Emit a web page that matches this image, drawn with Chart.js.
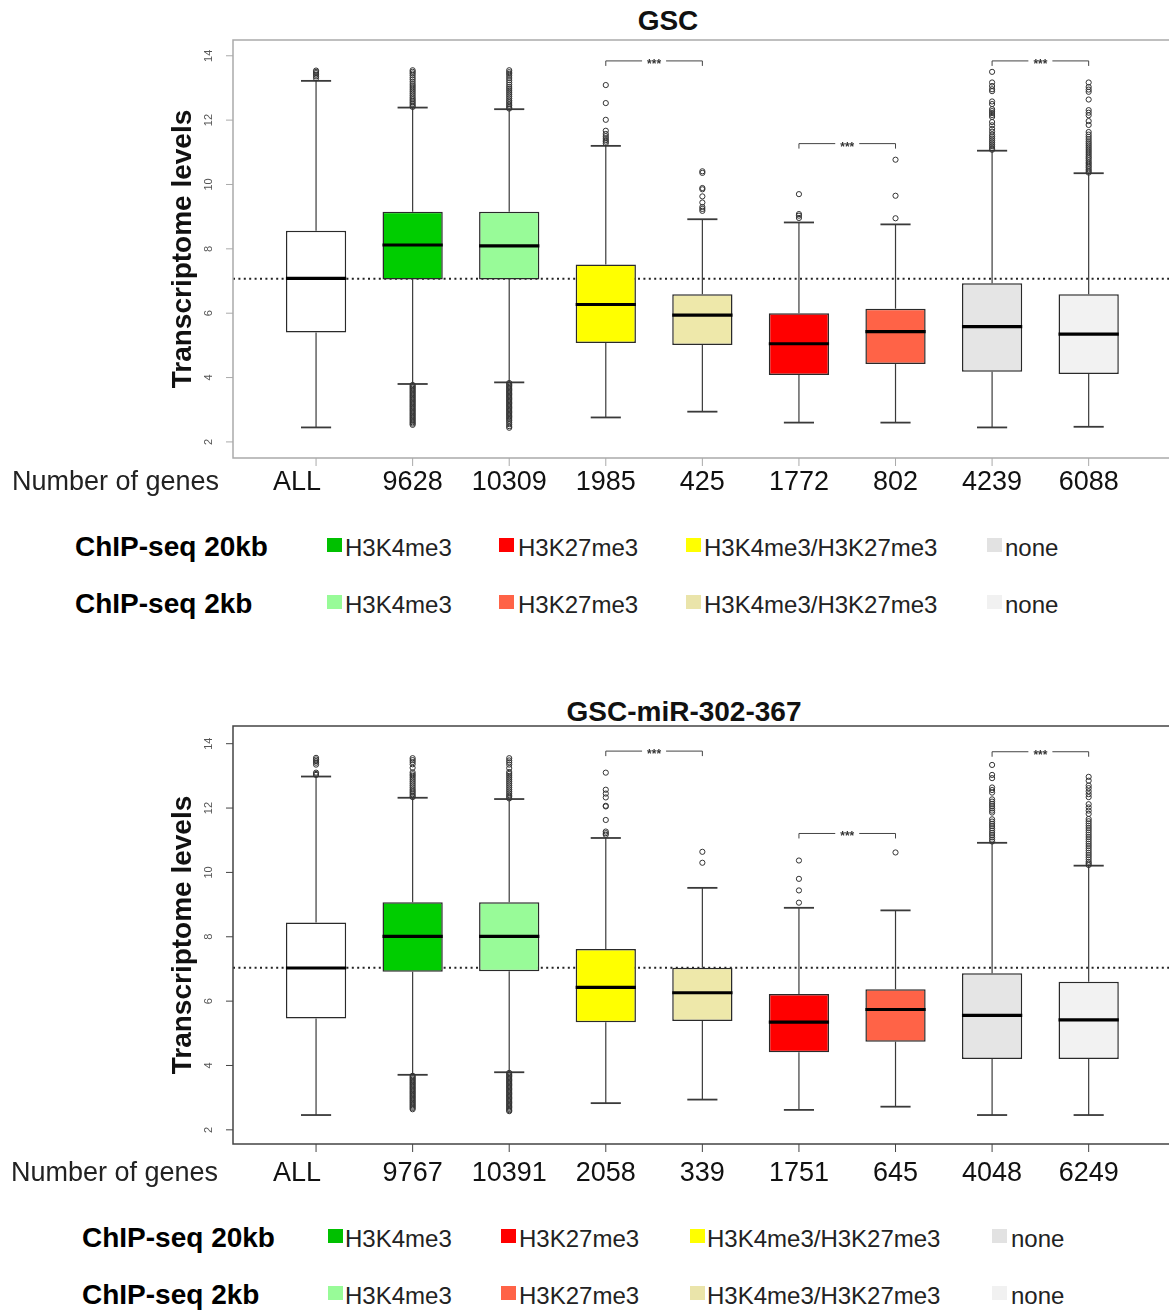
<!DOCTYPE html>
<html>
<head>
<meta charset="utf-8">
<script src="https://cdn.jsdelivr.net/npm/chart.js@4.4.1/dist/chart.umd.min.js"></script>
<style>
  html, body { margin: 0; padding: 0; background: #fff; overflow: hidden; }
  body { width: 1169px; height: 1314px; position: relative; font-family: "Liberation Sans", Arial, sans-serif; }
  canvas { position: absolute; left: 0; }
  .t { position: absolute; white-space: nowrap; line-height: 1; transform: translateY(-50%); }
  .title { font-weight: bold; font-size: 28px; color: #111; transform: translate(-50%, -50%); }
  .genes { font-size: 27px; color: #222; }
  .chip { font-weight: bold; font-size: 28px; color: #000; }
  .lg { font-size: 24px; color: #222; }
  .sw { position: absolute; width: 15px; height: 14px; }
</style>
</head>
<body>
<div class="t title" style="left:668px; top:21px;">GSC</div>
<canvas id="gscChart" width="1169" height="500" style="top:0px;"></canvas>
<div class="t genes" style="left:12px; top:481px;">Number of genes</div>

<div class="t title" style="left:684px; top:712px;">GSC-miR-302-367</div>
<canvas id="mirChart" width="1169" height="500" style="top:690px;"></canvas>
<div class="t genes" style="left:11px; top:1172px;">Number of genes</div>

<script>
// ---- data: GSC ----
const gscCats = ['ALL', '9628', '10309', '1985', '425', '1772', '802', '4239', '6088'];
const gscLow  = [2.45, 3.80, 3.85, 2.76, 2.94, 2.60, 2.60, 2.45, 2.47];
const gscQ1   = [5.40, 7.05, 7.05, 5.07, 5.01, 4.08, 4.42, 4.18, 4.11];
const gscMed  = [7.08, 8.12, 8.09, 6.27, 5.94, 5.05, 5.43, 5.58, 5.35];
const gscQ3   = [8.56, 9.15, 9.15, 7.51, 6.59, 6.00, 6.14, 6.93, 6.59];
const gscHigh = [13.22, 12.39, 12.34, 11.20, 8.92, 8.82, 8.76, 11.05, 10.35];
const gscOut = [
  [13.30, 13.36, 13.41, 13.46, 13.50, 13.54],
  [13.55, 13.50, 13.45, 13.39, 13.32, 13.26, 13.19, 13.12, 13.06, 13.00, 12.94, 12.88, 12.82, 12.76, 12.70, 12.65, 12.60, 12.55, 12.50, 12.45, 12.41,
   3.77, 3.73, 3.69, 3.65, 3.61, 3.57, 3.53, 3.49, 3.45, 3.41, 3.37, 3.33, 3.29, 3.25, 3.21, 3.17, 3.13, 3.09, 3.05, 3.01, 2.97, 2.93, 2.89, 2.85, 2.81, 2.77, 2.73, 2.69, 2.65, 2.61, 2.57, 2.53],
  [13.55, 13.49, 13.44, 13.38, 13.31, 13.24, 13.17, 13.10, 13.03, 12.97, 12.91, 12.85, 12.79, 12.73, 12.67, 12.61, 12.56, 12.50, 12.45, 12.40, 12.36,
   3.83, 3.79, 3.75, 3.71, 3.67, 3.63, 3.59, 3.55, 3.51, 3.47, 3.43, 3.39, 3.35, 3.31, 3.27, 3.23, 3.19, 3.15, 3.11, 3.07, 3.03, 2.99, 2.95, 2.91, 2.87, 2.83, 2.79, 2.75, 2.71, 2.66, 2.61, 2.55, 2.49, 2.44],
  [11.28, 11.33, 11.38, 11.44, 11.50, 11.57, 11.67, 12.01, 12.53, 13.09],
  [9.18, 9.24, 9.30, 9.44, 9.63, 9.85, 9.89, 10.36, 10.41],
  [8.96, 9.03, 9.08, 9.70],
  [8.95, 9.65, 10.77],
  [11.08, 11.13, 11.19, 11.25, 11.31, 11.37, 11.43, 11.49, 11.55, 11.64, 11.73, 11.84, 11.94, 12.10, 12.16, 12.22, 12.28, 12.34, 12.50, 12.58, 12.90, 12.96, 13.06, 13.17, 13.50],
  [10.37, 10.42, 10.47, 10.53, 10.58, 10.64, 10.69, 10.75, 10.81, 10.86, 10.92, 10.98, 11.04, 11.10, 11.16, 11.22, 11.28, 11.34, 11.41, 11.48, 11.55, 11.63, 11.85, 11.97, 12.15, 12.23, 12.31, 12.64, 12.88, 12.95, 13.03, 13.17]
];
const gscRef = 7.07;
const gscSig = [[3, 4, 13.84], [5, 6, 11.27], [7, 8, 13.84]];

// ---- data: GSC-miR-302-367 ----
const mirCats = ['ALL', '9767', '10391', '2058', '339', '1751', '645', '4048', '6249'];
const mirLow  = [2.46, 3.71, 3.79, 2.83, 2.94, 2.62, 2.72, 2.46, 2.46];
const mirQ1   = [5.46, 6.91, 6.93, 5.34, 5.38, 4.41, 4.74, 4.20, 4.20];
const mirMed  = [7.03, 8.01, 8.01, 6.43, 6.26, 5.35, 5.74, 5.56, 5.42];
const mirQ3   = [8.44, 9.07, 9.07, 7.62, 7.04, 6.22, 6.37, 6.87, 6.60];
const mirHigh = [12.98, 12.32, 12.28, 11.07, 9.52, 8.90, 8.82, 10.92, 10.21];
const mirOut = [
  [13.03, 13.06, 13.10, 13.35, 13.41, 13.46, 13.51, 13.56],
  [12.34, 12.38, 12.43, 12.48, 12.53, 12.58, 12.64, 12.70, 12.76, 12.82, 12.88, 12.94, 13.00, 13.05, 13.11, 13.25, 13.36, 13.43, 13.49, 13.55,
   3.68, 3.64, 3.60, 3.56, 3.52, 3.48, 3.44, 3.40, 3.36, 3.32, 3.28, 3.24, 3.20, 3.16, 3.12, 3.08, 3.04, 3.00, 2.96, 2.92, 2.88, 2.84, 2.80, 2.76, 2.72, 2.68, 2.64],
  [12.30, 12.35, 12.40, 12.46, 12.52, 12.58, 12.64, 12.70, 12.76, 12.82, 12.88, 12.94, 13.00, 13.06, 13.12, 13.24, 13.35, 13.42, 13.48, 13.55,
   3.77, 3.73, 3.69, 3.65, 3.61, 3.57, 3.53, 3.49, 3.45, 3.41, 3.37, 3.33, 3.29, 3.25, 3.21, 3.17, 3.13, 3.09, 3.05, 3.01, 2.97, 2.93, 2.89, 2.85, 2.81, 2.77, 2.73, 2.69, 2.65, 2.61, 2.58],
  [11.17, 11.22, 11.27, 11.63, 12.05, 12.07, 12.33, 12.45, 12.57, 13.10],
  [10.30, 10.64],
  [9.06, 9.44, 9.80, 10.37],
  [10.62],
  [10.96, 11.02, 11.09, 11.16, 11.23, 11.30, 11.37, 11.44, 11.51, 11.58, 11.65, 11.86, 11.92, 11.99, 12.06, 12.13, 12.20, 12.27, 12.48, 12.56, 12.64, 12.93, 13.03, 13.34],
  [10.23, 10.28, 10.33, 10.40, 10.47, 10.54, 10.61, 10.68, 10.75, 10.82, 10.89, 10.96, 11.03, 11.10, 11.17, 11.24, 11.31, 11.38, 11.45, 11.52, 11.59, 11.66, 11.82, 11.92, 12.02, 12.12, 12.34, 12.43, 12.52, 12.62, 12.70, 12.85, 12.97]
];
const mirRef = 7.04;
const mirSig = [[3, 4, 13.77], [5, 6, 11.21], [7, 8, 13.75]];

const yTicks = [2, 4, 6, 8, 10, 12, 14];
const legendNames = ['H3K4me3', 'H3K27me3', 'H3K4me3/H3K27me3', 'none'];

// colours
const boxColors = ['#FFFFFF', '#00CD00', '#98FB98', '#FFFF00', '#EEE8AA', '#FF0000', '#FF6347', '#E5E5E5', '#F2F2F2'];
const legend20Colors = ['#00C000', '#FF0000', '#FFFF00', '#E2E2E2'];
const legend2Colors = ['#98FB98', '#FF6347', '#EAE4AA', '#F1F1F1'];

const FONT = '"Liberation Sans", Arial, sans-serif';

function boxPlugin(p) {
  return {
    id: 'boxExtras',
    beforeDatasetsDraw(chart) {
      const { ctx, chartArea: a, scales: { x, y } } = chart;
      const bars = chart.getDatasetMeta(1).data;
      ctx.save();
      // dotted reference line (median of ALL)
      const yr = y.getPixelForValue(p.ref);
      ctx.setLineDash([2, 3.4]);
      ctx.lineWidth = 2;
      ctx.strokeStyle = '#222';
      ctx.beginPath(); ctx.moveTo(a.left, yr); ctx.lineTo(chart.width, yr); ctx.stroke();
      ctx.setLineDash([]);
      // whiskers + staples
      ctx.strokeStyle = '#3a3a3a';
      bars.forEach((b, i) => {
        const cx = x.getPixelForValue(i);
        const hw = b.width / 4;
        ctx.lineWidth = 1.2;
        [[p.low[i], p.q1[i]], [p.q3[i], p.high[i]]].forEach(([v0, v1]) => {
          ctx.beginPath();
          ctx.moveTo(cx, y.getPixelForValue(v0));
          ctx.lineTo(cx, y.getPixelForValue(v1));
          ctx.stroke();
        });
        ctx.lineWidth = 1.8;
        [p.low[i], p.high[i]].forEach(v => {
          const py = y.getPixelForValue(v);
          ctx.beginPath(); ctx.moveTo(cx - hw, py); ctx.lineTo(cx + hw, py); ctx.stroke();
        });
      });
      ctx.restore();
    },
    afterDatasetsDraw(chart) {
      const { ctx, scales: { x, y } } = chart;
      const bars = chart.getDatasetMeta(1).data;
      ctx.save();
      ctx.strokeStyle = '#000';
      ctx.lineWidth = 3.2;
      bars.forEach((b, i) => {
        const cx = x.getPixelForValue(i);
        const py = y.getPixelForValue(p.med[i]);
        ctx.beginPath(); ctx.moveTo(cx - b.width / 2, py); ctx.lineTo(cx + b.width / 2, py); ctx.stroke();
      });
      ctx.restore();
    },
    afterDraw(chart) {
      const { ctx, chartArea: a, scales: { x, y } } = chart;
      ctx.save();
      // plot frame (right side falls outside the page)
      ctx.strokeStyle = p.frame;
      ctx.lineWidth = 1.5;
      ctx.beginPath();
      ctx.moveTo(chart.width, a.top); ctx.lineTo(a.left, a.top);
      ctx.lineTo(a.left, a.bottom); ctx.lineTo(chart.width, a.bottom);
      ctx.stroke();

      // y axis ticks and rotated labels
      ctx.lineWidth = 1;
      ctx.fillStyle = '#555';
      ctx.font = '11px ' + FONT;
      ctx.textAlign = 'center';
      ctx.textBaseline = 'middle';
      yTicks.forEach(v => {
        const py = y.getPixelForValue(v);
        ctx.beginPath(); ctx.moveTo(a.left - 7, py); ctx.lineTo(a.left, py); ctx.stroke();
        ctx.save();
        ctx.translate(a.left - 24, py);
        ctx.rotate(-Math.PI / 2);
        ctx.fillText(String(v), 0, 0);
        ctx.restore();
      });

      // y axis title
      ctx.save();
      ctx.fillStyle = '#111';
      ctx.font = 'bold 28px ' + FONT;
      ctx.textBaseline = 'alphabetic';
      ctx.translate(191, (a.top + a.bottom) / 2);
      ctx.rotate(-Math.PI / 2);
      ctx.fillText('Transcriptome levels', 0, 0);
      ctx.restore();

      // x axis ticks and labels (number of genes)
      ctx.fillStyle = '#111';
      ctx.font = '27px ' + FONT;
      ctx.textBaseline = 'alphabetic';
      p.cats.forEach((c, i) => {
        const px = x.getPixelForValue(i);
        ctx.beginPath(); ctx.moveTo(px, a.bottom); ctx.lineTo(px, a.bottom + 8); ctx.stroke();
        ctx.fillText(c, px + (i === 0 ? -19 : 0), a.bottom + p.labelBase);
      });

      // significance brackets
      ctx.strokeStyle = '#444';
      ctx.fillStyle = '#333';
      ctx.lineWidth = 1;
      ctx.font = 'bold 12px ' + FONT;
      p.sig.forEach(([i0, i1, v]) => {
        const x0 = x.getPixelForValue(i0), x1 = x.getPixelForValue(i1);
        const py = y.getPixelForValue(v);
        const mid = (x0 + x1) / 2;
        ctx.beginPath();
        ctx.moveTo(x0, py + 5); ctx.lineTo(x0, py); ctx.lineTo(mid - 12, py);
        ctx.moveTo(mid + 12, py); ctx.lineTo(x1, py); ctx.lineTo(x1, py + 5);
        ctx.stroke();
        ctx.fillText('***', mid, py + 7);
      });
      ctx.restore();
    }
  };
}

function drawPanel(id, p) {
  const outPts = [];
  p.out.forEach((arr, i) => arr.forEach(v => outPts.push({ x: i, y: v })));
  return new Chart(document.getElementById(id), {
    type: 'bar',
    data: {
      datasets: [
        {
          type: 'scatter',
          data: outPts,
          pointRadius: 2.6,
          pointBorderWidth: 1,
          pointBorderColor: '#333',
          pointBackgroundColor: 'rgba(255,255,255,0)'
        },
        {
          data: p.cats.map((c, i) => ({ x: i, y: [p.q1[i], p.q3[i]] })),
          backgroundColor: boxColors,
          borderColor: '#2a2a2a',
          borderWidth: 1.5,
          borderSkipped: false,
          barPercentage: 0.8,
          categoryPercentage: 1
        }
      ]
    },
    options: {
      responsive: false,
      animation: false,
      events: [],
      layout: { padding: { left: 233, right: 0, top: p.top, bottom: p.bottom } },
      scales: {
        x: { type: 'linear', display: false, offset: false, min: -0.86, max: 8.78 },
        y: { type: 'linear', display: false, min: p.ymin, max: p.ymax }
      },
      plugins: { legend: { display: false }, tooltip: { enabled: false } }
    },
    plugins: [boxPlugin(p)]
  });
}

drawPanel('gscChart', {
  cats: gscCats, low: gscLow, q1: gscQ1, med: gscMed, q3: gscQ3, high: gscHigh,
  out: gscOut, ref: gscRef, sig: gscSig,
  ymin: 1.50, ymax: 14.49, top: 40, bottom: 42, labelBase: 32, frame: '#aaaaaa'
});
drawPanel('mirChart', {
  cats: mirCats, low: mirLow, q1: mirQ1, med: mirMed, q3: mirQ3, high: mirHigh,
  out: mirOut, ref: mirRef, sig: mirSig,
  ymin: 1.56, ymax: 14.55, top: 36, bottom: 46, labelBase: 37, frame: '#444444'
});

// legends (HTML text)
function addLegend(rows) {
  rows.forEach(r => {
    const head = document.createElement('div');
    head.className = 't chip';
    head.style.left = r.left + 'px';
    head.style.top = r.y + 'px';
    head.textContent = r.head;
    document.body.appendChild(head);
    legendNames.forEach((name, k) => {
      const sw = document.createElement('div');
      sw.className = 'sw';
      sw.style.left = r.sx[k] + 'px';
      sw.style.top = (r.y - 9) + 'px';
      sw.style.background = r.colors[k];
      document.body.appendChild(sw);
      const lab = document.createElement('div');
      lab.className = 't lg';
      lab.style.left = r.tx[k] + 'px';
      lab.style.top = (r.y + 1) + 'px';
      lab.textContent = name;
      document.body.appendChild(lab);
    });
  });
}
addLegend([
  { head: 'ChIP-seq 20kb', left: 75, y: 547, colors: legend20Colors, sx: [327, 499, 686, 987], tx: [345, 518, 704, 1005] },
  { head: 'ChIP-seq 2kb', left: 75, y: 604, colors: legend2Colors, sx: [327, 499, 686, 987], tx: [345, 518, 704, 1005] },
  { head: 'ChIP-seq 20kb', left: 82, y: 1238, colors: legend20Colors, sx: [328, 501, 690, 992], tx: [345, 519, 707, 1011] },
  { head: 'ChIP-seq 2kb', left: 82, y: 1295, colors: legend2Colors, sx: [328, 501, 690, 992], tx: [345, 519, 707, 1011] }
]);
</script>
</body>
</html>
